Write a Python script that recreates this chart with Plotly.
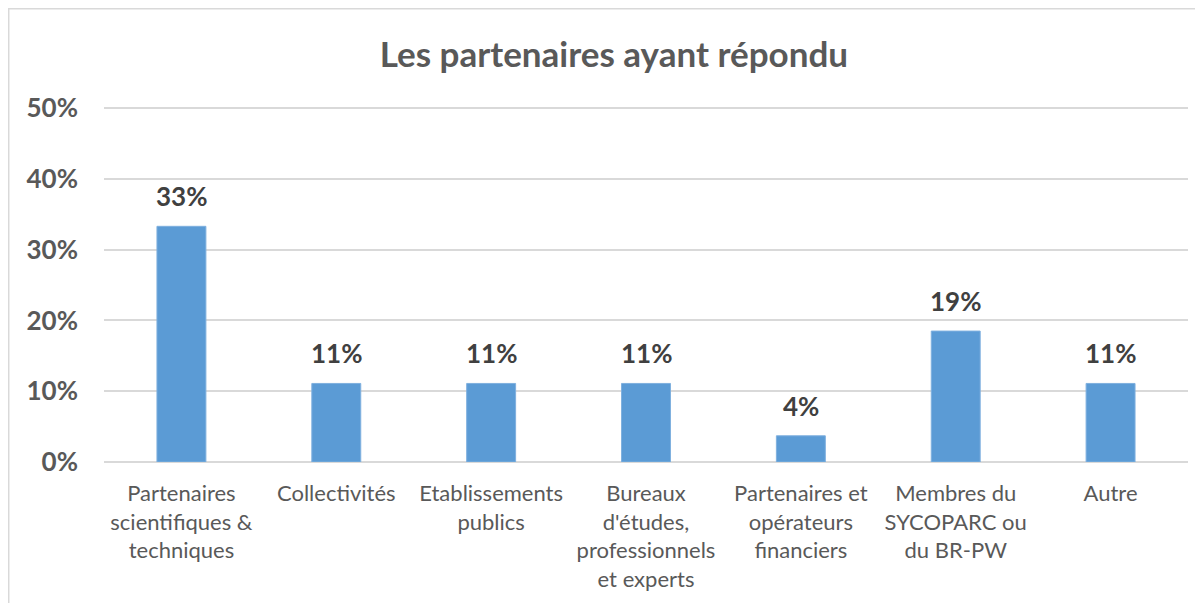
import plotly.graph_objects as go

categories = [
    "Partenaires<br>scientifiques &<br>techniques",
    "Collectivités",
    "Etablissements<br>publics",
    "Bureaux<br>d'études,<br>professionnels<br>et experts",
    "Partenaires et<br>opérateurs<br>financiers",
    "Membres du<br>SYCOPARC ou<br>du BR-PW",
    "Autre",
]
values = [0.333, 0.111, 0.111, 0.111, 0.037, 0.185, 0.111]
value_labels = ["33%", "11%", "11%", "11%", "4%", "19%", "11%"]
y_ticks = [0, 0.1, 0.2, 0.3, 0.4, 0.5]
y_tick_labels = ["0%", "10%", "20%", "30%", "40%", "50%"]

FONT = "Lato"
fig = go.Figure()
fig.add_trace(go.Bar(
    x=categories, y=values,
    marker=dict(color="#5B9BD5", line=dict(color="#7FB0DF", width=1)),
    hoverinfo="skip",
))

for c, v, t in zip(categories, values, value_labels):
    fig.add_annotation(x=c, y=v, text=t, showarrow=False, yanchor="bottom",
                       yshift=12, font=dict(family=FONT, size=26, color="#404040", weight="bold"))

fig.update_layout(
    width=1195, height=595,
    margin=dict(l=96, r=15, t=98, b=141, autoexpand=False),
    paper_bgcolor="white", plot_bgcolor="white",
    bargap=0.684,
    showlegend=False,
    title=dict(text="<b>Les partenaires ayant répondu</b>", x=0.507, xanchor="center",
               y=0.921, yanchor="middle",
               font=dict(family=FONT, size=35, color="#595959")),
    shapes=[dict(type="rect", xref="paper", yref="paper", x0=-0.0879, x1=1.05,
                 y0=-0.5, y1=1.2732, line=dict(color="#D9D9D9", width=1.5),
                 fillcolor="rgba(0,0,0,0)", layer="below")],
)
fig.update_yaxes(
    range=[0, 0.503], tickvals=y_ticks, ticktext=y_tick_labels,
    showgrid=True, gridcolor="#D9D9D9", gridwidth=1.5,
    zeroline=True, zerolinecolor="#D9D9D9", zerolinewidth=1.5,
    showline=False, ticks="", ticklabelstandoff=25,
    tickfont=dict(family=FONT, size=26, color="#595959", weight="bold"),
)
fig.update_xaxes(
    showgrid=False, showline=False, ticks="", ticklabelstandoff=16,
    tickfont=dict(family=FONT, size=22, color="#595959"),
    tickangle=0,
)
fig.write_html("out.html")
